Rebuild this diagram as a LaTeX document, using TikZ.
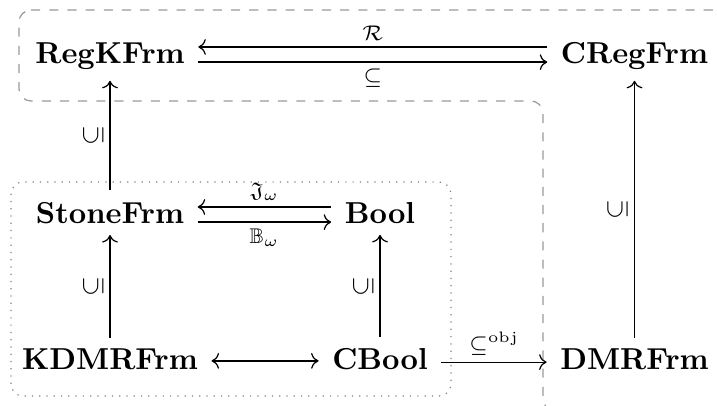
\documentclass[tikz,border=0pt]{standalone}
\usepackage{amsmath,amssymb}
\usepackage{graphicx}
\usepackage{tikz}
\usetikzlibrary{arrows.meta}
\newcommand{\incl}{\rotatebox{90}{\footnotesize$\subseteq$}}
\tikzset{
  cat/.style={anchor=base,inner xsep=1ex,inner ysep=0.85ex,font=\bfseries},
  ar/.style={-{Computer Modern Rightarrow},line width=0.4pt},
  lab/.style={font=\scriptsize,inner sep=2pt},
  grp/.style={draw=gray!80,dashed,rounded corners=4pt,line width=0.4pt},
  box/.style={draw=gray,dotted,rounded corners=4pt,line width=0.4pt}
}
\begin{document}
\begin{tikzpicture}
  \useasboundingbox (0,0) rectangle (8.317,4.698);
  \clip (0,0) rectangle (8.317,4.698);
  \draw[grp] (0.22,4.582) -- (8.6,4.582) -- (8.6,-0.07) -- (6.299,-0.07)
    -- (6.299,3.526) -- (0.22,3.526) -- cycle;
  \draw[box] (0.128,0.104) rectangle (5.232,2.587);
  \node[cat] (regk) at (1.276,3.967) {RegKFrm};
  \node[cat] (creg) at (7.36,3.967) {CRegFrm};
  \node[cat] (stone) at (1.276,2.111) {StoneFrm};
  \node[cat] (bool) at (4.408,2.111) {Bool};
  \node[cat] (kdmr) at (1.276,0.406) {KDMRFrm};
  \node[cat] (cbool) at (4.408,0.406) {CBool};
  \node[cat] (dmr) at (7.36,0.406) {DMRFrm};
  \draw[ar] ([yshift=5.3pt]creg.base west) -- ([yshift=5.3pt]regk.base east)
    node[midway,above,lab] {$\mathcal{R}$};
  \draw[ar] ([yshift=0.3pt]regk.base east) -- ([yshift=0.3pt]creg.base west)
    node[midway,below,lab] {$\subseteq$};
  \draw[ar] ([yshift=5.3pt]bool.base west) -- ([yshift=5.3pt]stone.base east)
    node[midway,above,lab] {$\mathfrak{J}_\omega$};
  \draw[ar] ([yshift=0.3pt]stone.base east) -- ([yshift=0.3pt]bool.base west)
    node[midway,below,lab] {$\mathbb{B}_\omega$};
  \draw[ar,{Computer Modern Rightarrow}-{Computer Modern Rightarrow}]
    ([yshift=3pt]kdmr.base east) -- ([yshift=3pt]cbool.base west);
  \draw[ar] ([yshift=2.6pt]cbool.base east) -- ([yshift=2.6pt]dmr.base west)
    node[midway,above,lab] {$\subseteq^{\mathrm{obj}}$};
  \draw[ar] (stone) -- (regk) node[midway,left,lab] {\incl};
  \draw[ar] (kdmr) -- (stone) node[midway,left,lab] {\incl};
  \draw[ar] (cbool) -- (bool) node[midway,left,lab] {\incl};
  \draw[ar] (dmr) -- (creg) node[midway,left,lab] {\incl};
\end{tikzpicture}
\end{document}
